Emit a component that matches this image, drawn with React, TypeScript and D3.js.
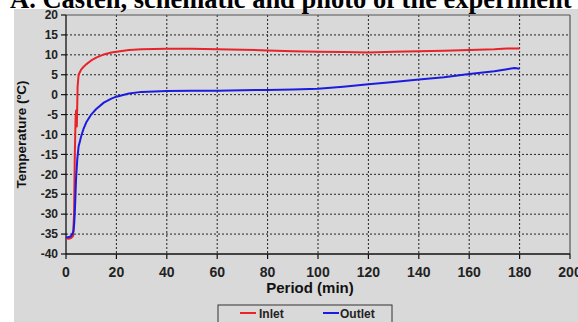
import React from "react";
import * as d3 from "d3";

const title = "A. Casten, schematic and photo of the experiment";
const xTicks = [0, 20, 40, 60, 80, 100, 120, 140, 160, 180, 200];
const yTicks = [-40, -35, -30, -25, -20, -15, -10, -5, 0, 5, 10, 15, 20];

const inletTime = [0, 1, 2, 2.8, 3.2, 3.5, 3.8, 4.0, 4.3, 4.6, 5, 6, 7, 8, 10, 12, 15, 18, 20, 25, 30, 40, 50, 60, 70, 80, 90, 100, 110, 120, 130, 140, 150, 160, 170, 175, 180];
const inletTemp = [-36, -36.2, -36, -35.5, -30, -15, -6, -4, -8, 2, 5, 6.3, 7, 7.6, 8.6, 9.3, 10.1, 10.6, 10.8, 11.2, 11.4, 11.5, 11.5, 11.4, 11.3, 11.1, 10.9, 10.8, 10.7, 10.6, 10.8, 10.9, 11.0, 11.2, 11.4, 11.6, 11.6];

const outletTime = [0, 1, 2, 2.5, 3, 3.3, 3.6, 4, 4.5, 5, 6, 7, 8, 10, 12, 15, 18, 20, 25, 30, 40, 50, 60, 70, 80, 90, 100, 110, 120, 130, 140, 150, 160, 170, 175, 178, 180];
const outletTemp = [-35.8, -35.8, -35.5, -35, -34.2, -32, -28, -21, -16, -13, -10.5, -8.5, -7, -5, -3.6, -2, -1, -0.5, 0.3, 0.7, 0.9, 1.0, 1.0, 1.1, 1.2, 1.3, 1.5, 2.0, 2.6, 3.2, 3.8, 4.4, 5.2, 5.9, 6.4, 6.7, 6.5];

const seriesNames = ["Inlet", "Outlet"];
const seriesColors = ["#e8232a", "#1c1ce0"];

export default function App() {
  const W = 578, H = 322;
  const L = 66, R = 570, T = 15, B = 254;
  const x = d3.scaleLinear().domain([0, 200]).range([L, R]);
  const y = d3.scaleLinear().domain([-40, 20]).range([B, T]);
  const bg = "#d9d9d9";
  const font = "'Liberation Sans', Arial, sans-serif";

  const line = d3.line<[number, number]>().x(d => x(d[0])).y(d => y(d[1]));
  const inlet = inletTime.map((t, i) => [t, inletTemp[i]] as [number, number]);
  const outlet = outletTime.map((t, i) => [t, outletTemp[i]] as [number, number]);

  return (
    <svg width={W} height={H} style={{ position: "absolute", left: 0, top: 0 }}>
      <rect x={0} y={0} width={W} height={H} fill="#ffffff" />
      <rect x={14} y={9} width={W - 14} height={H - 9} fill={bg} />
      <text x={10} y={7.5} fontFamily="'Liberation Serif', 'Times New Roman', serif" fontWeight="bold" fontSize={26.5} fill="#000">{title}</text>

      {/* grid */}
      {xTicks.filter(v => v > 0 && v < 200).map(v => (
        <line key={"gx" + v} x1={x(v)} x2={x(v)} y1={T} y2={B} stroke="#222" strokeWidth={1} strokeDasharray="2,2" />
      ))}
      {yTicks.filter(v => v > -40 && v < 20).map(v => (
        <line key={"gy" + v} x1={L} x2={R} y1={y(v)} y2={y(v)} stroke="#222" strokeWidth={1} strokeDasharray="2,2" />
      ))}
      {/* border */}
      <line x1={L} x2={R} y1={T} y2={T} stroke="#555" strokeWidth={1.2} />
      <line x1={R} x2={R} y1={T} y2={B} stroke="#555" strokeWidth={1.2} />
      <line x1={L} x2={L} y1={T} y2={B} stroke="#111" strokeWidth={1.3} />
      <line x1={L} x2={R} y1={B} y2={B} stroke="#111" strokeWidth={1.3} />

      {/* y ticks */}
      {yTicks.map(v => (
        <g key={"yt" + v}>
          <line x1={L - 5} x2={L} y1={y(v)} y2={y(v)} stroke="#111" strokeWidth={1.2} />
          <text x={L - 8} y={y(v)} dy="0.35em" textAnchor="end" fontFamily={font} fontWeight="bold" fontSize={12} fill="#222">{v}</text>
        </g>
      ))}
      {/* x ticks */}
      {xTicks.map(v => (
        <g key={"xt" + v}>
          <line x1={x(v)} x2={x(v)} y1={B} y2={B + 5} stroke="#111" strokeWidth={1.2} />
          <text x={x(v)} y={277} textAnchor="middle" fontFamily={font} fontWeight="bold" fontSize={14} fill="#222">{v}</text>
        </g>
      ))}

      <text x={310} y={293} textAnchor="middle" fontFamily={font} fontWeight="bold" fontSize={15} fill="#111">Period (min)</text>
      <text transform={`translate(26,${(T + B) / 2}) rotate(-90)`} textAnchor="middle" fontFamily={font} fontWeight="bold" fontSize={13.5} fill="#111">Temperature (ºC)</text>

      {/* series */}
      <path d={line(inlet) || ""} fill="none" stroke={seriesColors[0]} strokeWidth={2} strokeLinejoin="round" />
      <path d={line(outlet) || ""} fill="none" stroke={seriesColors[1]} strokeWidth={2} strokeLinejoin="round" />

      {/* legend */}
      <rect x={218} y={305} width={174} height={22} fill={bg} stroke="#333" strokeWidth={1} />
      <line x1={240} x2={256} y1={313} y2={313} stroke={seriesColors[0]} strokeWidth={2} />
      <text x={259} y={317.5} fontFamily={font} fontWeight="bold" fontSize={12} fill="#222">{seriesNames[0]}</text>
      <line x1={323} x2={339} y1={313} y2={313} stroke={seriesColors[1]} strokeWidth={2} />
      <text x={340} y={317.5} fontFamily={font} fontWeight="bold" fontSize={12} fill="#222">{seriesNames[1]}</text>
    </svg>
  );
}
